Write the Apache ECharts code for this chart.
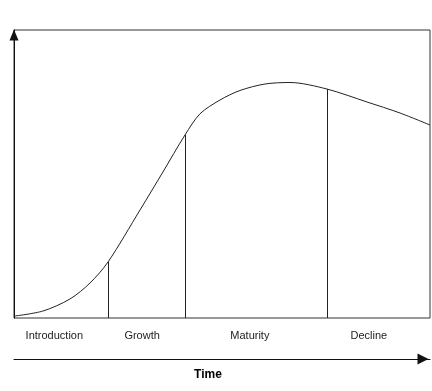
<!DOCTYPE html>
<html>
<head>
<meta charset="utf-8">
<script src="https://cdn.jsdelivr.net/npm/echarts@6/dist/echarts.min.js"></script>
<style>html,body{margin:0;padding:0;background:#fff}#c{width:432px;height:391px}</style>
</head>
<body>
<div id="c"></div>
<script>
// Time (0-100) and sales (0-100) along the product life cycle curve
var timeValues = [0.24, 6.97, 13.46, 18.27, 22.6, 30.29, 35.8, 41.1, 44.71, 49.52, 54.33, 60.34, 66.35, 75.24, 84.86, 92.79, 100];
var salesValues = [0.7, 2.43, 6.6, 12.15, 19.44, 37.5, 50.7, 63.54, 70.9, 75.69, 79, 81.25, 81.77, 79.5, 75, 71.18, 67.01];
// Stage boundaries (time) and the curve height where each boundary meets it
var boundaryTimes = [22.6, 41.1, 75.24];
var boundaryTops = [19.44, 63.54, 79.5];
// Stage names and their label centres on the time axis
var stageNames = ['Introduction', 'Growth', 'Maturity', 'Decline'];
var stageCenters = [9.7, 30.8, 56.7, 85.3];

var chart = echarts.init(document.getElementById('c'), null, {renderer: 'canvas'});
var font = 'Liberation Sans, Arial, sans-serif';
var ink = '#222';

var option = {
  animation: false,
  grid: {left: 14, top: 30, width: 416, height: 288, show: true, borderColor: '#333', borderWidth: 1, backgroundColor: 'transparent'},
  xAxis: [{
    type: 'value', min: 0, max: 100, position: 'bottom',
    axisLine: {show: false}, axisTick: {show: false}, splitLine: {show: false},
    axisLabel: {
      customValues: stageCenters, margin: 12,
      color: ink, fontFamily: font, fontSize: 11,
      formatter: function (v) { var i = stageCenters.indexOf(v); return i >= 0 ? stageNames[i] : ''; }
    }
  }, {
    type: 'value', min: 0, max: 100, position: 'bottom', offset: 41,
    axisLine: {show: true, lineStyle: {color: '#111', width: 1}, symbol: ['none', 'triangle'], symbolSize: [11, 11], symbolOffset: [0, -7]},
    axisTick: {show: false}, axisLabel: {show: false}, splitLine: {show: false},
    name: 'Time', nameLocation: 'middle', nameGap: 10,
    nameTextStyle: {color: '#000', fontFamily: font, fontSize: 12, fontWeight: 'bold', padding: [0, 28, 0, 0]}
  }],
  yAxis: {
    type: 'value', min: 0, max: 100, position: 'left', offset: 7,
    axisLine: {show: true, lineStyle: {color: '#111', width: 1}, symbol: ['none', 'triangle'], symbolSize: [9, 11], symbolOffset: [0, -5]},
    axisTick: {show: false}, axisLabel: {show: false}, splitLine: {show: false}
  },
  series: [{
    type: 'line', xAxisIndex: 0,
    data: timeValues.map(function (t, i) { return [t, salesValues[i]]; }),
    smooth: 0.3, showSymbol: false, symbol: 'none',
    lineStyle: {color: ink, width: 1},
    markLine: {
      silent: true, symbol: ['none', 'none'], label: {show: false},
      lineStyle: {color: ink, width: 1, type: 'solid'},
      data: boundaryTimes.map(function (t, i) { return [{coord: [t, 0]}, {coord: [t, boundaryTops[i]]}]; })
    }
  }]
};
chart.setOption(option);
</script>
</body>
</html>
